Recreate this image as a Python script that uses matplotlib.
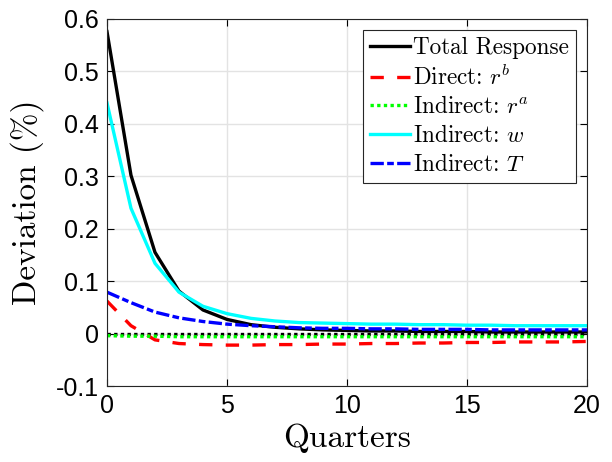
import matplotlib
matplotlib.use("Agg")
import matplotlib.pyplot as plt
import numpy as np

quarters = np.arange(0, 21)
total = [0.576, 0.302, 0.155, 0.081, 0.045, 0.027, 0.017, 0.012, 0.009, 0.007,
         0.006, 0.005, 0.005, 0.004, 0.004, 0.004, 0.003, 0.003, 0.003, 0.003, 0.003]
direct_rb = [0.062, 0.015, -0.012, -0.019, -0.021, -0.022, -0.022, -0.021, -0.021, -0.020,
             -0.020, -0.019, -0.019, -0.018, -0.018, -0.017, -0.017, -0.016, -0.016, -0.016, -0.015]
indirect_ra = [-0.004, -0.005, -0.005, -0.006, -0.006, -0.006, -0.006, -0.006, -0.006, -0.006,
               -0.006, -0.006, -0.006, -0.006, -0.006, -0.006, -0.006, -0.006, -0.006, -0.006, -0.006]
indirect_w = [0.440, 0.239, 0.134, 0.079, 0.052, 0.038, 0.029, 0.024, 0.021, 0.020,
              0.019, 0.018, 0.018, 0.017, 0.017, 0.016, 0.016, 0.015, 0.015, 0.015, 0.015]
indirect_T = [0.079, 0.059, 0.041, 0.030, 0.023, 0.018, 0.015, 0.013, 0.011, 0.010,
              0.010, 0.009, 0.009, 0.008, 0.008, 0.008, 0.007, 0.007, 0.007, 0.007, 0.007]

xticks = [0, 5, 10, 15, 20]
yticks = [-0.1, 0, 0.1, 0.2, 0.3, 0.4, 0.5, 0.6]
ytick_labels = ['-0.1', '0', '0.1', '0.2', '0.3', '0.4', '0.5', '0.6']

plt.rcParams['mathtext.fontset'] = 'cm'
plt.rcParams['font.family'] = ['Liberation Sans', 'DejaVu Sans']

fig = plt.figure(figsize=(6.12, 4.62), dpi=100)
ax = fig.add_axes([0.1748, 0.1645, 0.7844, 0.7944])

ax.grid(True, color='#e3e3e3', linewidth=1.0)
ax.set_axisbelow(True)

ax.plot(quarters, np.zeros(len(quarters)), color='black', linestyle=(0, (1, 1)), linewidth=2.4)
ax.plot(quarters, total, color='black', linewidth=2.4, label='Total Response')
ax.plot(quarters, direct_rb, color='red', linestyle=(0, (4, 4)), linewidth=2.4, label=r'Direct: $r^b$')
ax.plot(quarters, indirect_ra, color='#00ff00', linestyle=(0, (1, 1)), linewidth=2.4, label=r'Indirect: $r^a$')
ax.plot(quarters, indirect_w, color='cyan', linewidth=2.4, label=r'Indirect: $w$')
ax.plot(quarters, indirect_T, color='blue', linestyle=(0, (4, 1, 2, 1)), linewidth=2.4, label=r'Indirect: $T$')

ax.set_xlim(0, 20)
ax.set_ylim(-0.1, 0.6)
ax.set_xticks(xticks)
ax.set_xticklabels([str(t) for t in xticks])
ax.set_yticks(yticks)
ax.set_yticklabels(ytick_labels)
ax.tick_params(direction='in', top=True, right=True, labelsize=18, length=5, width=0.8, pad=6)
for s in ax.spines.values():
    s.set_linewidth(0.8)
    s.set_color('#262626')

ax.set_xlabel('Quarters', fontsize=24, family='cmr10', labelpad=4)
ax.set_ylabel('Deviation (%)', fontsize=24, family='cmr10', labelpad=8)

leg = ax.legend(loc='upper right', prop={'family': 'cmr10', 'size': 16.7}, frameon=True, fancybox=False,
                edgecolor='#262626', framealpha=1, handlelength=1.7, handletextpad=0.15,
                borderpad=0.3, labelspacing=0.28, borderaxespad=0.48)
leg.get_frame().set_linewidth(0.8)

plt.savefig("out.png", dpi=100)
